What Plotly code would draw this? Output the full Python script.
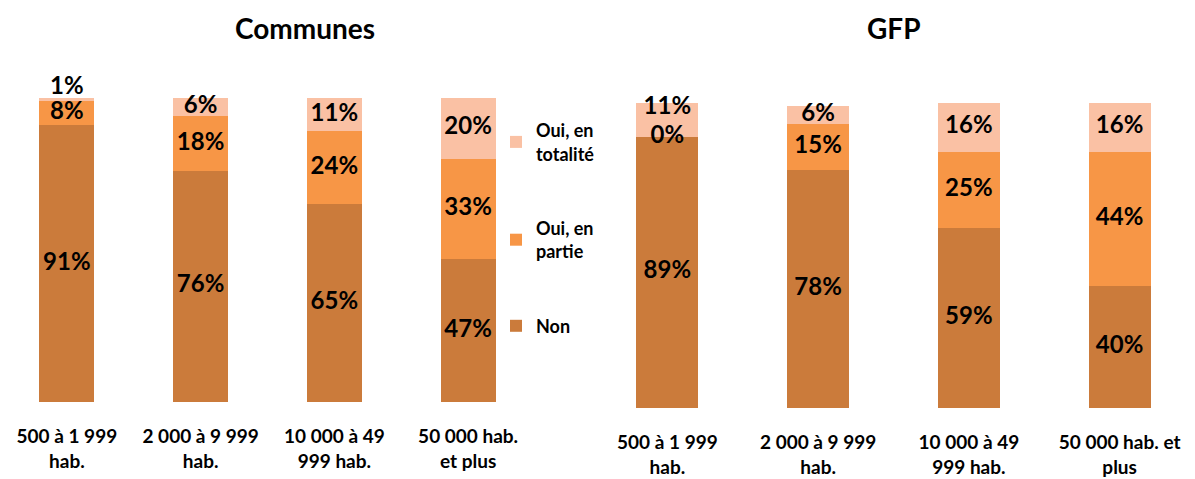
import plotly.graph_objects as go

categories_communes = ["500 à 1 999<br>hab.", "2 000 à 9 999<br>hab.", "10 000 à 49<br>999 hab.", "50 000 hab.<br>et plus"]
categories_gfp = ["500 à 1 999<br>hab.", "2 000 à 9 999<br>hab.", "10 000 à 49<br>999 hab.", "50 000 hab. et<br>plus"]

communes_non = [91, 76, 65, 47]
communes_partie = [8, 18, 24, 33]
communes_totalite = [1, 6, 11, 20]

gfp_non = [89, 78, 59, 40]
gfp_partie = [0, 15, 25, 44]
gfp_totalite = [11, 6, 16, 16]

series_names = ["Non", "Oui, en<br>partie", "Oui, en<br>totalité"]
legend_ranks = [3, 2, 1]
colors = ["#CB7B3B", "#F79646", "#FAC1A4"]

FONT = "Lato"
W, H = 1195, 479
OFF = 8  # page body margin offset of the figure
LABEL_FONT = dict(family=FONT, size=24, color="black", weight="bold")

fig = go.Figure()


def add_panel(cats, vals_list, xa, ya, showlegend, label_positions):
    base = [0] * len(cats)
    for vals, name, col, rank, tpos in zip(vals_list, series_names, colors, legend_ranks, label_positions):
        fig.add_trace(go.Bar(
            x=cats, y=vals, name=name, marker=dict(color=col, line=dict(width=0)),
            xaxis=xa, yaxis=ya, showlegend=showlegend, legendgroup=name,
            legendrank=rank, hoverinfo="skip",
        ))
        mids = [b + v / 2 for b, v in zip(base, vals)]
        fig.add_trace(go.Scatter(
            x=cats, y=mids, mode="text", text=[f"{v}%" for v in vals],
            textposition=tpos, textfont=LABEL_FONT, cliponaxis=False,
            xaxis=xa, yaxis=ya, showlegend=False, hoverinfo="skip",
        ))
        base = [b + v for b, v in zip(base, vals)]


add_panel(categories_communes, [communes_non, communes_partie, communes_totalite], "x", "y", True,
          ["middle center", "middle center",
           ["top center", "middle center", "middle center", "middle center"]])
add_panel(categories_gfp, [gfp_non, gfp_partie, gfp_totalite], "x2", "y2", False,
          ["middle center", "middle center",
           ["top center", "middle center", "middle center", "middle center"]])

tickfont = dict(family=FONT, size=19, color="black", weight="bold")
axis_common = dict(showgrid=False, zeroline=False, showline=False, ticks="",
                   automargin=False, tickfont=tickfont)


def px_x(x):
    return (x - OFF) / W


def px_y(y):
    return (H - (y - OFF)) / H


fig.update_layout(
    width=W, height=H,
    barmode="stack", bargap=0.59,
    plot_bgcolor="white", paper_bgcolor="white",
    margin=dict(l=0, r=0, t=0, b=0, autoexpand=False),
    font=dict(family=FONT, color="black"),
    xaxis=dict(domain=[px_x(8), px_x(535)], range=[-0.44, 3.5], anchor="y",
               ticklabelstandoff=21, **axis_common),
    xaxis2=dict(domain=[px_x(592), px_x(1195)], range=[-0.5, 3.5], anchor="y2",
                ticklabelstandoff=21, **axis_common),
    yaxis=dict(domain=[px_y(402), px_y(98)], range=[0, 100], visible=False, automargin=False),
    yaxis2=dict(domain=[px_y(408), px_y(103)], range=[0, 100], visible=False, automargin=False),
    legend=dict(x=px_x(496), y=px_y(112), xanchor="left", yanchor="top",
                traceorder="grouped", tracegroupgap=48,
                font=dict(family=FONT, size=18, color="black", weight="bold"),
                itemwidth=30, bgcolor="rgba(0,0,0,0)"),
    annotations=[
        dict(text="Communes", x=px_x(305), y=px_y(28), xref="paper", yref="paper",
             xanchor="center", yanchor="middle", showarrow=False,
             font=dict(family=FONT, size=28, color="black", weight="bold")),
        dict(text="GFP", x=px_x(894), y=px_y(28), xref="paper", yref="paper",
             xanchor="center", yanchor="middle", showarrow=False,
             font=dict(family=FONT, size=28, color="black", weight="bold")),
    ],
)

fig.write_html("out.html")
